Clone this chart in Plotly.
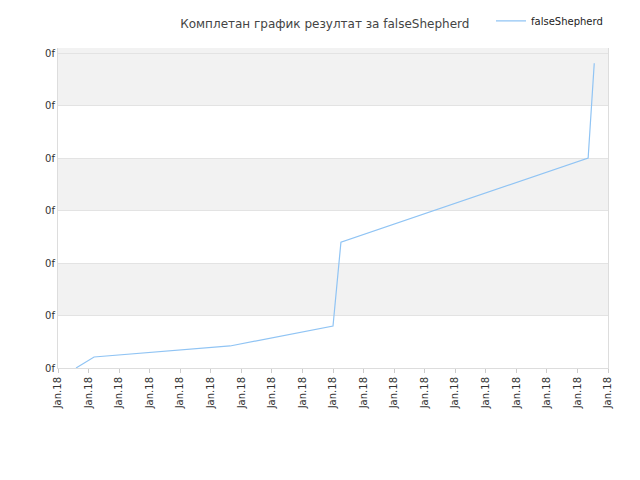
import plotly.graph_objects as go

# values (axis units)
x_vals = [0.59, 1.18, 5.63, 9.0, 9.26, 17.35, 17.55]
y_vals = [0.0, 0.21, 0.42, 0.8, 2.4, 4.0, 5.81]
x_ticks = list(range(19))
x_labels = ["Jan.18"] * 19
y_ticks = [0, 1, 2, 3, 4, 5, 6]
y_labels = ["0f"] * 7

fig = go.Figure()
fig.add_trace(go.Scatter(x=x_vals, y=y_vals, mode="lines", name="falseShepherd",
                         line=dict(color="#90c4f4", width=1.2)))

# alternating bands
for lo, hi in [(1, 2), (3, 4), (5, 6.1)]:
    fig.add_shape(type="rect", xref="paper", x0=0, x1=1, y0=lo, y1=hi,
                  fillcolor="#f2f2f2", line_width=0, layer="below")

fig.update_layout(
    width=640, height=480,
    paper_bgcolor="white", plot_bgcolor="white",
    font=dict(family="DejaVu Sans", size=10, color="#333"),
    title=dict(text="Комплетан график резултат за falseShepherd", x=0.495, y=0.975,
               font=dict(size=12, color="#444")),
    margin=dict(l=50, r=40, t=40, b=120, autoexpand=False),
    showlegend=True,
    legend=dict(x=1.0, y=1.13, xanchor="right", yanchor="top", font=dict(size=10, color="#222")),
    xaxis=dict(range=[0, 18], tickvals=x_ticks, ticktext=x_labels, tickangle=-90,
               showgrid=False, zeroline=False, showline=True, linecolor="#ddd",
               ticks="outside", ticklen=4, tickcolor="#ccc", automargin=False),
    yaxis=dict(range=[0, 6.1], tickvals=y_ticks, ticktext=y_labels, showgrid=True,
               gridcolor="#e3e3e3", zeroline=False, showline=True, linecolor="#ddd",
               mirror=True, automargin=False),
)
fig.write_html("out.html")
